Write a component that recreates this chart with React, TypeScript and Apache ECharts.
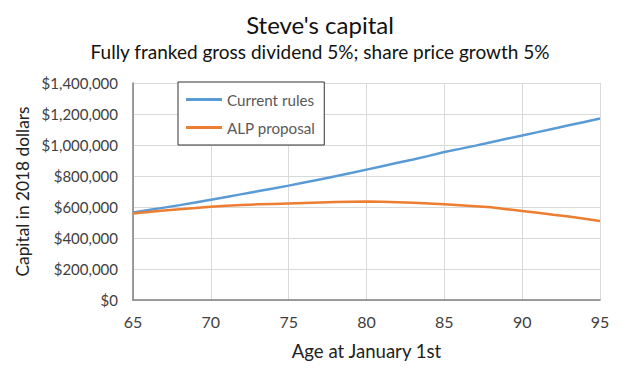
import React, { useEffect, useRef } from "react";
import * as echarts from "echarts";

const ages = [65,66,67,68,69,70,71,72,73,74,75,76,77,78,79,80,81,82,83,84,85,86,87,88,89,90,91,92,93,94,95];
const currentRules = [565,580,596,612,629,647,665,683,701,719,738,758,778,798,819,841,863,885,907,930,955,975,996,1018,1040,1061,1083,1105,1127,1149,1171];
const alpProposal = [558,568,577,585,593,602,608,613,617,620,623,626,629,632,634,636,634,631,627,622,617,612,605,598,586,574,563,550,538,524,509];
const seriesNames = ["Current rules", "ALP proposal"];
const titleText = "Steve's capital";
const subtitleText = "Fully franked gross dividend 5%; share price growth 5%";

const FONT = "Lato, 'Open Sans', sans-serif";

export default function App() {
  const ref = useRef<HTMLDivElement>(null);
  useEffect(() => {
    if (!ref.current) return;
    const chart = echarts.init(ref.current, null, { renderer: "svg" });
    const fmt = (v: number) => "$" + Math.round(v).toLocaleString("en-US");
    chart.setOption({
      animation: false,
      backgroundColor: "#ffffff",
      textStyle: { fontFamily: FONT },
      title: [
        { text: titleText, left: "center", top: 7, textStyle: { fontSize: 24, fontWeight: "normal", color: "#111", fontFamily: FONT } },
        { text: subtitleText, left: "center", top: 37, textStyle: { fontSize: 19, fontWeight: "normal", color: "#111", fontFamily: FONT } },
      ],
      legend: {
        orient: "vertical",
        left: 178,
        top: 82,
        data: seriesNames,
        icon: "rect",
        itemWidth: 36,
        itemHeight: 3,
        itemGap: 13,
        padding: [10, 9, 10, 8],
        borderColor: "#333",
        borderWidth: 1,
        backgroundColor: "#fff",
        textStyle: { fontSize: 15.2, color: "#595959", fontFamily: FONT },
      },
      grid: { left: 133, right: 40, top: 83, bottom: 80 },
      xAxis: {
        type: "value",
        min: 65,
        max: 95,
        interval: 5,
        name: "Age at January 1st",
        nameLocation: "middle",
        nameGap: 41,
        nameTextStyle: { fontSize: 18.6, color: "#222", fontFamily: FONT },
        axisLine: { lineStyle: { color: "#7f7f7f", width: 1.5 } },
        axisTick: { show: false },
        axisLabel: { fontSize: 16, color: "#404040", margin: 13, fontFamily: FONT },
        splitLine: { show: true, lineStyle: { color: "#d9d9d9" } },
      },
      yAxis: {
        type: "value",
        min: 0,
        max: 1400,
        interval: 200,
        name: "Capital in 2018 dollars",
        nameLocation: "middle",
        nameGap: 92,
        nameTextStyle: { fontSize: 17.3, color: "#222", fontFamily: FONT },
        axisLine: { show: true, lineStyle: { color: "#7f7f7f", width: 1.5 } },
        axisTick: { show: false },
        axisLabel: { fontSize: 15, color: "#404040", margin: 15, formatter: (v: number) => fmt(v * 1000), fontFamily: FONT },
        splitLine: { show: true, lineStyle: { color: "#d9d9d9" } },
      },
      series: [
        {
          name: seriesNames[0],
          type: "line",
          data: ages.map((a, i) => [a, currentRules[i]]),
          showSymbol: false,
          lineStyle: { color: "#5B9BD5", width: 2.5 },
          itemStyle: { color: "#5B9BD5" },
        },
        {
          name: seriesNames[1],
          type: "line",
          data: ages.map((a, i) => [a, alpProposal[i]]),
          showSymbol: false,
          lineStyle: { color: "#ED7D31", width: 2.5 },
          itemStyle: { color: "#ED7D31" },
        },
      ],
    });
    return () => chart.dispose();
  }, []);
  return <div ref={ref} style={{ width: 640, height: 380, position: "absolute", left: 0, top: 0 }} />;
}
